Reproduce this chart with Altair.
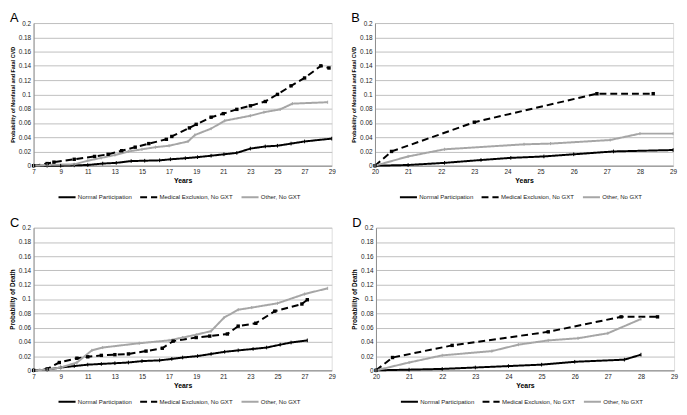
import altair as alt
import pandas as pd

SERIES = ["Normal Participation", "Medical Exclusion, No GXT", "Other, No GXT"]

# Panel A: Nonfatal and fatal CVD, years 7-29
A_normal_years = [7, 8, 9, 10, 11, 12.1, 13.1, 14.2, 15.2, 16.3, 17.1, 18.2, 19.1, 20.1, 21.05, 22, 23, 24.1, 25, 26, 27, 29]
A_normal_vals = [0, 0, 0, 0.0005, 0.001, 0.003, 0.004, 0.0065, 0.007, 0.0075, 0.009, 0.0105, 0.012, 0.014, 0.016, 0.018, 0.024, 0.027, 0.028, 0.031, 0.034, 0.038]
A_med_years = [7, 8, 8.5, 10, 11.5, 12.5, 13.5, 14.5, 15.5, 16.8, 17.2, 18.5, 19, 20.1, 21, 22, 23, 24.1, 25, 26, 27, 28.2, 28.8]
A_med_vals = [0, 0.003, 0.005, 0.009, 0.013, 0.016, 0.021, 0.026, 0.031, 0.037, 0.041, 0.053, 0.058, 0.068, 0.073, 0.079, 0.084, 0.09, 0.1, 0.112, 0.123, 0.14, 0.137]
A_other_years = [7, 8, 10, 11, 12, 13, 14, 15, 16, 17, 18.4, 18.9, 20.1, 21.1, 23, 24, 25.2, 26.1, 28.7]
A_other_vals = [0, 0.001, 0.002, 0.007, 0.011, 0.015, 0.02, 0.023, 0.026, 0.028, 0.034, 0.043, 0.052, 0.063, 0.07, 0.075, 0.079, 0.087, 0.089]

# Panel B: Nonfatal and fatal CVD, years 20-29
B_normal_years = [20, 21, 22.1, 23.2, 24.1, 25.1, 26, 27.2, 29]
B_normal_vals = [0, 0.001, 0.004, 0.008, 0.011, 0.013, 0.016, 0.02, 0.022]
B_med_years = [20, 20.5, 23.0, 26.7, 28.4]
B_med_vals = [0, 0.02, 0.061, 0.101, 0.101]
B_other_years = [20, 21, 22.1, 24.5, 25.3, 27.1, 28, 29]
B_other_vals = [0, 0.013, 0.023, 0.03, 0.031, 0.036, 0.045, 0.045]

# Panel C: Death, years 7-29
C_normal_years = [7, 8, 9, 10, 11, 12, 13, 14, 15, 16.3, 17.2, 18, 19.1, 20.1, 21.1, 22.1, 23.2, 24.2, 25.2, 26, 27.2]
C_normal_vals = [0, 0.001, 0.004, 0.006, 0.008, 0.009, 0.01, 0.011, 0.013, 0.014, 0.016, 0.018, 0.02, 0.023, 0.026, 0.028, 0.03, 0.032, 0.036, 0.039, 0.042]
C_med_years = [7, 8, 8.9, 10.2, 11, 12, 13, 14, 15.3, 16.5, 17.3, 19, 20, 21.3, 22.1, 23.4, 24.8, 26.8, 27.2]
C_med_vals = [0, 0.002, 0.011, 0.017, 0.019, 0.021, 0.022, 0.023, 0.027, 0.031, 0.041, 0.046, 0.048, 0.051, 0.062, 0.066, 0.083, 0.093, 0.099]
C_other_years = [7, 8, 9, 10.2, 11.3, 12.1, 14.8, 17, 18, 19, 20.1, 21.06, 22.1, 23.1, 25, 27, 28.7]
C_other_vals = [0, 0.001, 0.004, 0.011, 0.028, 0.032, 0.038, 0.042, 0.046, 0.05, 0.055, 0.074, 0.085, 0.088, 0.094, 0.107, 0.115]

# Panel D: Death, years 20-29
D_normal_years = [20, 21, 22, 23, 24, 25, 26, 27.5, 28]
D_normal_vals = [0, 0.001, 0.002, 0.004, 0.006, 0.008, 0.012, 0.015, 0.022]
D_med_years = [20, 20.5, 22.3, 25.2, 27.4, 28.5]
D_med_vals = [0, 0.018, 0.035, 0.054, 0.075, 0.075]
D_other_years = [20, 21, 22, 23.5, 24.3, 25.2, 26.1, 27, 28]
D_other_vals = [0, 0.011, 0.021, 0.027, 0.036, 0.042, 0.045, 0.052, 0.072]

Y_TICKS = [0, 0.02, 0.04, 0.06, 0.08, 0.1, 0.12, 0.14, 0.16, 0.18, 0.2]
X_TICKS_LONG = [7, 9, 11, 13, 15, 17, 19, 21, 23, 25, 27, 29]
X_TICKS_SHORT = [20, 21, 22, 23, 24, 25, 26, 27, 28, 29]

COLORS = ["#000000", "#000000", "#a6a6a6"]
DASHES = [[1, 0], [7, 4], [1, 0]]
FONT = "Liberation Sans"
W, H = 303, 145


def make_df(parts):
    rows = []
    for series, years, vals in parts:
        for y, v in zip(years, vals):
            rows.append({"series": series, "year": y, "prob": v})
    return pd.DataFrame(rows)


def panel(letter, df, xdomain, xticks, ytitle, ytitle_size, w, h):
    xenc = alt.X("year:Q", scale=alt.Scale(domain=xdomain, nice=False, zero=False),
                 axis=alt.Axis(values=xticks, tickCount=50, format="~g", title="Years",
                               grid=False, ticks=False,
                               labelFontSize=6.5, labelPadding=3, titleFontSize=7,
                               titleFontWeight="bold", titlePadding=2, labelOverlap=False,
                               domainColor="#8c8c8c", labelColor="#222", labelFont=FONT,
                               titleFont=FONT, labelFlush=False))
    yenc = alt.Y("prob:Q", scale=alt.Scale(domain=[0, 0.2], nice=False),
                 axis=alt.Axis(values=Y_TICKS, tickCount=50, format="~g", title=ytitle, grid=True,
                               gridColor="#bfbfbf", gridWidth=1, ticks=False, labelOverlap=False,
                               labelFontSize=6.5, labelPadding=3, titleFontSize=ytitle_size,
                               titleFontWeight="bold", titlePadding=3,
                               domainColor="#8c8c8c", labelColor="#222", labelFont=FONT,
                               titleFont=FONT))
    leg = alt.Legend(orient="none", legendX=24, legendY=h + 22, direction="horizontal",
                     title=None, symbolType="stroke", symbolSize=300, symbolStrokeWidth=2,
                     labelFontSize=6.1, labelFont=FONT, labelColor="#222",
                     columnPadding=4, labelOffset=1, padding=0)
    base = alt.Chart(df).encode(x=xenc, y=yenc)
    lines = base.mark_line(strokeWidth=2).encode(
        color=alt.Color("series:N", scale=alt.Scale(domain=SERIES, range=COLORS), legend=leg),
        strokeDash=alt.StrokeDash("series:N", scale=alt.Scale(domain=SERIES, range=DASHES), legend=leg),
        order="year:Q",
    )
    pts_normal = base.transform_filter(alt.datum.series == SERIES[0]).mark_point(
        shape="M0,-1L0,1", size=14, stroke="#000", strokeWidth=1, filled=False, opacity=1
    )
    pts_med = base.transform_filter(alt.datum.series == SERIES[1]).mark_point(
        shape="square", size=12, color="#000", filled=True, opacity=1
    )
    pts_other = base.transform_filter(alt.datum.series == SERIES[2]).mark_point(
        shape="M0,-1L0,1", size=10, stroke="#a6a6a6", strokeWidth=1, filled=False, opacity=1
    )
    label = alt.Chart(pd.DataFrame({"t": [letter]})).mark_text(
        fontSize=13, font=FONT, align="left", baseline="top", color="#000"
    ).encode(text="t:N", x=alt.value(-24), y=alt.value(-11))
    return alt.layer(lines, pts_normal, pts_med, pts_other, label).properties(width=w, height=h)


dfA = make_df([(SERIES[0], A_normal_years, A_normal_vals), (SERIES[1], A_med_years, A_med_vals), (SERIES[2], A_other_years, A_other_vals)])
dfB = make_df([(SERIES[0], B_normal_years, B_normal_vals), (SERIES[1], B_med_years, B_med_vals), (SERIES[2], B_other_years, B_other_vals)])
dfC = make_df([(SERIES[0], C_normal_years, C_normal_vals), (SERIES[1], C_med_years, C_med_vals), (SERIES[2], C_other_years, C_other_vals)])
dfD = make_df([(SERIES[0], D_normal_years, D_normal_vals), (SERIES[1], D_med_years, D_med_vals), (SERIES[2], D_other_years, D_other_vals)])

CVD = "Probability of Nonfatal and Fatal CVD"
DEATH = "Probability of Death"

pA = panel("A", dfA, [7, 29], X_TICKS_LONG, CVD, 5.5, W, H)
pB = panel("B", dfB, [20, 29], X_TICKS_SHORT, CVD, 5.5, W, H)
pC = panel("C", dfC, [7, 29], X_TICKS_LONG, DEATH, 6.5, W, H)
pD = panel("D", dfD, [20, 29], X_TICKS_SHORT, DEATH, 6.5, W, H)


def indep(c):
    return c.resolve_scale(x="independent", y="independent", color="independent",
                           strokeDash="independent").resolve_legend(color="independent",
                                                                    strokeDash="independent")


row1 = indep(alt.hconcat(pA, pB, spacing=14))
row2 = indep(alt.hconcat(pC, pD, spacing=14))
chart = indep(alt.vconcat(row1, row2, spacing=14)).properties(
    padding=0, background="white"
).configure_view(stroke=None).configure(font=FONT)

chart.save("out.html", embed_options={"renderer": "svg", "actions": False})
